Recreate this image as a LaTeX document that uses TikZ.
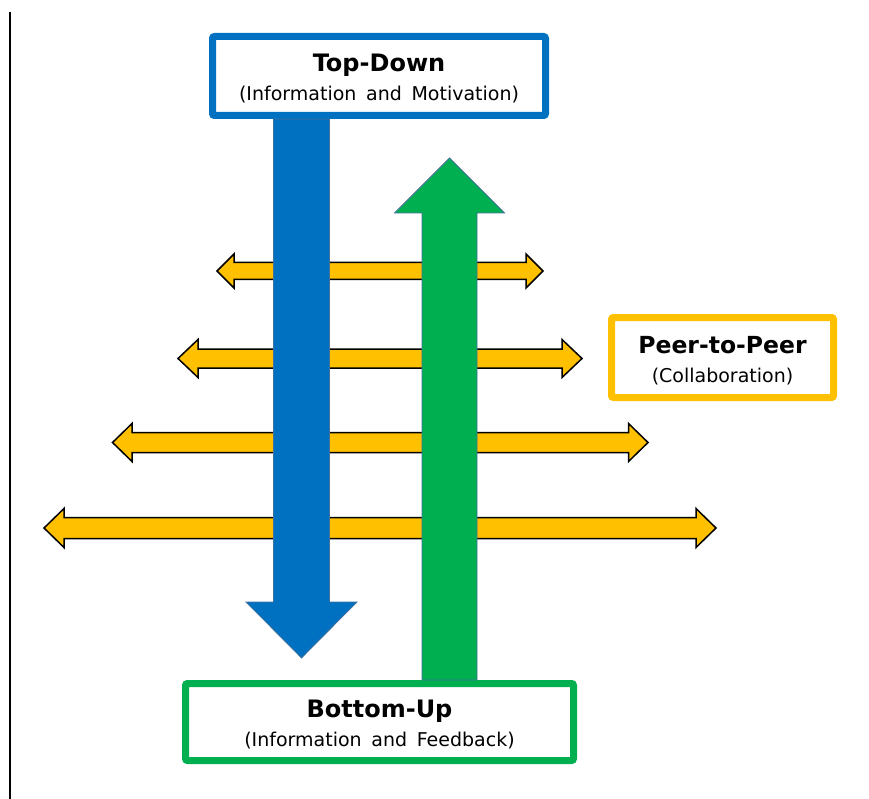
\documentclass[tikz,border=0pt]{standalone}
\usepackage{fontspec}
\setmainfont[WordSpace=1.6]{DejaVu Sans}
\usepackage{tikz}
\usetikzlibrary{positioning, calc}
\definecolor{tdblue}{RGB}{0,112,192}
\definecolor{bugreen}{RGB}{0,176,80}
\definecolor{ppyellow}{RGB}{255,192,0}
\definecolor{edgegray}{RGB}{65,113,156}

\begin{document}
\begin{tikzpicture}[x=1pt, y=-1pt,
    labelbox/.style={line width=7pt, rounded corners=2pt, fill=white, align=center,
        inner sep=0pt, text height=49pt, text depth=0pt, font=\fontsize{19}{29}\selectfont},
    bigarrow/.style={draw=edgegray, line width=0.75pt},
    peerarrow/.style={draw=black, line width=1.5pt, fill=ppyellow}]
    \useasboundingbox (0,0) rectangle (869,799);
    \draw[line width=2.5pt] (10,12) -- (10,799);
    % peer-to-peer arrows: y / left tip / right tip / half shaft / half head / head length
    \foreach \y/\l/\r/\s/\h/\k in {271/217/543/8.5/17/17, 358.5/178/582/9.5/19/20,
        442.5/112.5/648/10/19/19.5, 528/44/716/10.5/19.5/20}
        \filldraw[peerarrow] (\l,\y) -- (\l+\k,\y-\h) -- (\l+\k,\y-\s) -- (\r-\k,\y-\s)
            -- (\r-\k,\y-\h) -- (\r,\y) -- (\r-\k,\y+\h) -- (\r-\k,\y+\s)
            -- (\l+\k,\y+\s) -- (\l+\k,\y+\h) -- cycle;
    \node[labelbox, draw=tdblue, minimum width=333pt, minimum height=79pt] (top) at (379,76)
        {{\fontsize{24}{29}\selectfont\bfseries Top-Down}\\(Information and Motivation)};
    \node[labelbox, draw=bugreen, minimum width=388pt, minimum height=77pt] (bottom) at (379.5,722)
        {{\fontsize{24}{29}\selectfont\bfseries Bottom-Up}\\(Information and Feedback)};
    \node[labelbox, draw=ppyellow, minimum width=222pt, minimum height=80pt] (peer) at (722.5,357.5)
        {{\fontsize{23.5}{29}\selectfont\bfseries Peer-to-Peer}\\(Collaboration)};
    % top-down arrow
    \coordinate (bt) at (301.5,658);
    \coordinate (bs) at (top.south -| bt);
    \filldraw[bigarrow, fill=tdblue] ([xshift=-28pt]bs) -- ([xshift=-28pt,yshift=56pt]bt)
        -- ([xshift=-55.5pt,yshift=56pt]bt) -- (bt) -- ([xshift=55.5pt,yshift=56pt]bt)
        -- ([xshift=28pt,yshift=56pt]bt) -- ([xshift=28pt]bs) -- cycle;
    % bottom-up arrow
    \coordinate (gt) at (449.5,158);
    \coordinate (gs) at (bottom.north -| gt);
    \filldraw[bigarrow, fill=bugreen] ([xshift=-27.5pt]gs) -- ([xshift=-27.5pt,yshift=-55pt]gt)
        -- ([xshift=-55pt,yshift=-55pt]gt) -- (gt) -- ([xshift=55pt,yshift=-55pt]gt)
        -- ([xshift=27.5pt,yshift=-55pt]gt) -- ([xshift=27.5pt]gs) -- cycle;
\end{tikzpicture}
\end{document}
